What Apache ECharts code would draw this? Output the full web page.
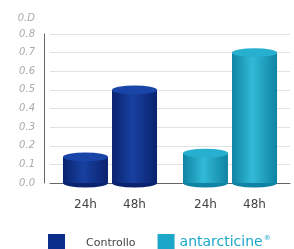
<!DOCTYPE html>
<html>
<head>
<meta charset="utf-8">
<script src="https://cdn.jsdelivr.net/npm/echarts@6/dist/echarts.min.js"></script>
<style>
  html, body { margin: 0; padding: 0; background: #fff; }
  #chart { width: 294px; height: 249px; }
</style>
</head>
<body>
<div id="chart"></div>
<script>
// data
const groups = ['Controllo', 'antarcticine'];
const hours = ['24h', '48h'];
const values24h = [0.14, 0.16];
const values48h = [0.5, 0.7];
const yTicks = ['0.0', '0.1', '0.2', '0.3', '0.4', '0.5', '0.6', '0.7', '0.8'];

const palette = [
  { edge: '#0a226f', mid: '#1841a0', top: '#1a45a8', base: '#0b2d8c' },
  { edge: '#0f83a4', mid: '#32bad6', top: '#27afcf', base: '#1ca7c9' }
];

const chart = echarts.init(document.getElementById('chart'));

function body(i) {
  const p = palette[i];
  return new echarts.graphic.LinearGradient(0, 0, 1, 0, [
    { offset: 0, color: p.edge },
    { offset: 0.45, color: p.mid },
    { offset: 1, color: p.edge }
  ]);
}

function barSeries(name, vals) {
  return {
    name: name,
    type: 'bar',
    barWidth: 45,
    barGap: '9%',
    z: 2,
    label: {
      show: true,
      position: 'bottom',
      distance: 16,
      formatter: name,
      color: '#444',
      fontSize: 12,
      fontFamily: 'DejaVu Sans'
    },
    data: vals.map((v, i) => ({ value: v, itemStyle: { color: body(i) } }))
  };
}

// ellipse caps: side = -1 for 24h (left bar), 1 for 48h (right bar)
function capSeries(vals, where, side) {
  return {
    type: 'pictorialBar',
    symbol: 'circle',
    symbolSize: [45, 9],
    barGap: '-100%',
    symbolPosition: where,
    symbolOffset: [side * 24.5, where === 'end' ? '-50%' : '50%'],
    z: where === 'end' ? 3 : 1,
    silent: true,
    data: vals.map((v, i) => ({
      value: v,
      itemStyle: { color: where === 'end' ? palette[i].top : palette[i].edge }
    }))
  };
}

chart.setOption({
  animation: false,
  grid: { left: 50, right: 4, top: 34, bottom: 66 },
  legend: {
    left: 43,
    top: 229,
    itemWidth: 17,
    itemHeight: 17,
    itemGap: 22,
    icon: 'rect',
    data: [
      { name: groups[0], textStyle: { color: '#444', fontSize: 11, padding: [2, 0, 0, 16] } },
      { name: groups[1], textStyle: { color: '#1ca7c9', fontSize: 14, padding: [0, 0, 0, 0] } }
    ],
    formatter: n => n === groups[1] ? n + '{r|®}' : n,
    textStyle: {
      fontFamily: 'DejaVu Sans',
      rich: { r: { fontSize: 7, color: '#1ca7c9', verticalAlign: 'top', padding: [0, 0, 8, 1] } }
    }
  },
  xAxis: {
    type: 'category',
    data: groups,
    axisTick: { show: false },
    axisLabel: { show: false },
    axisLine: { lineStyle: { color: '#666', width: 1 } }
  },
  yAxis: {
    type: 'value',
    min: 0,
    max: 0.8,
    interval: 0.1,
    offset: 6,
    name: '0.D',
    nameGap: 11,
    nameLocation: 'end',
    nameTextStyle: {
      color: '#aaa', fontStyle: 'italic', fontSize: 10, fontFamily: 'DejaVu Sans',
      align: 'right', padding: [0, 9, 0, 0]
    },
    axisLine: { show: true, lineStyle: { color: '#666', width: 1 } },
    axisTick: { show: false },
    axisLabel: {
      color: '#aaa',
      fontStyle: 'italic',
      fontSize: 10,
      fontFamily: 'DejaVu Sans',
      margin: 9,
      formatter: v => yTicks[Math.round(v * 10)]
    },
    splitLine: { lineStyle: { color: '#e2e2e2' } }
  },
  series: [
    { name: groups[0], type: 'line', data: [], itemStyle: { color: palette[0].base } },
    { name: groups[1], type: 'line', data: [], itemStyle: { color: palette[1].base } },
    barSeries(hours[0], values24h),
    barSeries(hours[1], values48h),
    capSeries(values24h, 'end', -1),
    capSeries(values48h, 'end', 1),
    capSeries(values24h, 'start', -1),
    capSeries(values48h, 'start', 1)
  ]
});
</script>
</body>
</html>
